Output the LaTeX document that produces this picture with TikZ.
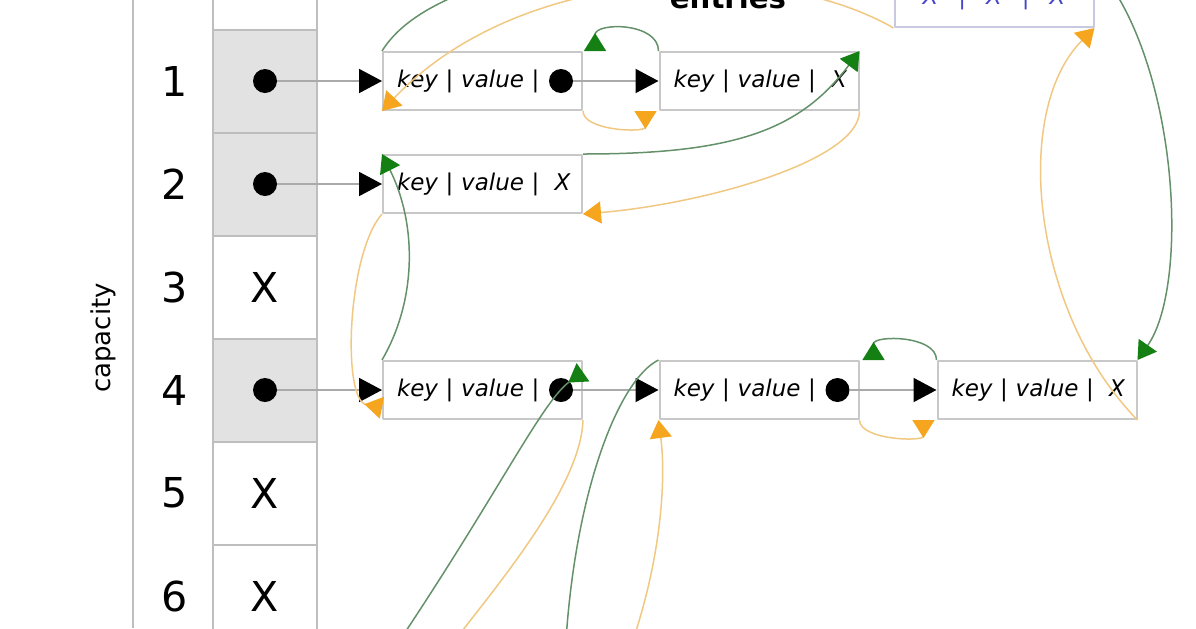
\documentclass[tikz,border=0pt]{standalone}
\usepackage{fontspec}
\setmainfont{DejaVu Sans}
\usetikzlibrary{arrows.meta}
\definecolor{cellline}{RGB}{190,190,190}
\definecolor{cellfill}{RGB}{226,226,226}
\definecolor{boxline}{RGB}{200,200,200}
\definecolor{ptrline}{RGB}{170,170,170}
\definecolor{grline}{RGB}{100,145,105}
\definecolor{grhead}{RGB}{20,128,20}
\definecolor{orline}{RGB}{240,200,130}
\definecolor{orhead}{RGB}{245,165,30}
\definecolor{hdtext}{RGB}{70,70,200}
\definecolor{hdline}{RGB}{200,200,225}
\begin{document}
\begin{tikzpicture}[x=0.5pt,y=-0.5pt,line join=round,
    cell/.style={draw=cellline,line width=1pt,minimum width=52pt,minimum height=51.5pt,inner sep=0pt,font=\fontsize{20.6}{22}\selectfont},
    used/.style={cell,fill=cellfill},
    entry/.style={draw=boxline,line width=1pt,minimum width=99.5pt,minimum height=29pt,inner xsep=7pt,inner ysep=0pt,text width=85.5pt,align=left,font=\fontsize{11.5}{13}\selectfont\itshape},
    dot/.style={circle,fill=black,minimum size=12pt,inner sep=0pt},
    ptr/.style={draw=ptrline,line width=1pt,-{Triangle[length=11.5pt,width=12pt,color=black]}},
    grl/.style={draw=grline,line width=0.75pt},
    orl/.style={draw=orline,line width=0.75pt},
    prv/.style={grl,-{Triangle[length=9pt,width=11pt,color=grhead]}},
    nxt/.style={orl,-{Triangle[length=9pt,width=11pt,color=orhead]}},
    prvb/.style={grl,-{Triangle[reversed,length=9pt,width=11pt,color=grhead]}},
    nxtb/.style={orl,-{Triangle[reversed,length=9pt,width=11pt,color=orhead]}}]
    \useasboundingbox (0,0) rectangle (1196,628);
    \clip (0,0) rectangle (1196,628);
    % table
    \draw[cellline,line width=1pt] (133,0)--(133,628);
    \node[rotate=90,font=\fontsize{13}{13}\selectfont] (cap) at (103,338) {capacity};
    \foreach \i/\st/\txt in {0/cell/{},1/used/{},2/used/{},3/cell/X,4/used/{},5/cell/X,6/cell/X}
        \node[\st] (c\i) at (265,{81+103*(\i-1)}) {\txt};
    \foreach \i in {1,...,6}
        \node[font=\fontsize{20.6}{22}\selectfont] (n\i) at (175,{81+103*(\i-1)}) {\i};
    \foreach \i in {1,2,4}
        \node[dot] (p\i) at (c\i) {};
    % entries
    \node[entry] (e1a) at (482.5,81) {key | value |};
    \node[entry] (e1b) at (759,81) {\mbox{key | value |\ \ X}};
    \node[entry] (e2) at (482.5,184) {\mbox{key | value |\ \ X}};
    \node[entry] (e4a) at (482.5,390) {key | value |};
    \node[entry] (e4b) at (759,390) {key | value |};
    \node[entry] (e4c) at (1037,390) {\mbox{key | value |\ \ X}};
    \node[dot] (d1a) at ([xshift=-11pt]e1a.east) {};
    \node[dot] (d4a) at ([xshift=-11pt]e4a.east) {};
    \node[dot] (d4b) at ([xshift=-11pt]e4b.east) {};
    \node[draw=hdline,line width=1pt,minimum width=99.5pt,minimum height=29pt,text=hdtext,font=\fontsize{11.5}{13}\selectfont\itshape] (hd) at (994,-2) {X\hspace{10pt}|\hspace{10pt}X\hspace{10pt}|\hspace{10pt}X};
    \node[anchor=base,font=\fontsize{14.6}{16}\selectfont\bfseries] (lbl) at (728,8) {entries};
    % pointers
    \foreach \i/\e in {1/e1a,2/e2,4/e4a}
        \draw[ptr] (p\i)--(\e.west);
    \draw[ptr] (d1a)--(e1b.west);
    \draw[ptr] (d4a)--(e4b.west);
    \draw[ptr] (d4b)--(e4c.west);
    % off-picture ends
    \coordinate (gtop1) at (475,-12);
    \coordinate (gtop2) at (1117,-5);
    \coordinate (gbot1) at (400,640);
    \coordinate (gbot2) at (566,640);
    \coordinate (obot1) at (455,640);
    \coordinate (obot2) at (633,640);
    % before links
    \draw[grl] (e1a.north west) .. controls +(17,-27) and +(-45,17) .. (gtop1);
    \draw[prvb] (e1b.north west) .. controls +(0,-29) and +(0,-29) .. ([xshift=6pt]e1a.north east);
    \draw[prv] (e2.north east) .. controls +(150,0) and +(-60,80) .. (e1b.north east);
    \draw[prv] (e4a.north west) .. controls +(35,-60) and +(35,70) .. (e2.north west);
    \draw[prvb] (gbot1) .. controls +(100,-150) and +(-40,28) .. (e4a.10);
    \draw[grl] (e4b.north west) .. controls +(-40,20) and +(10,-150) .. (gbot2);
    \draw[prvb] (e4c.north west) .. controls +(0,-25) and +(0,-25) .. ([xshift=7pt]e4b.north east);
    \draw[prv] (gtop2) .. controls +(63,105) and +(49,-70) .. (e4c.north east);
    % after links
    \draw[nxt] (hd.south west) .. controls +(-125,-72) and +(137,-145) .. (e1a.south west);
    \draw[nxtb] (e1a.south east) .. controls +(0,20) and +(0,22) .. ([xshift=-6.5pt]e1b.south west);
    \draw[nxt] (e1b.south east) .. controls +(0,50) and +(120,-10) .. (e2.south east);
    \draw[nxtb] (e2.south west) .. controls +(-35,40) and +(-40,-8) .. (e4a.190);
    \draw[orl] (e4a.south east) .. controls +(-2,62) and +(55,-70) .. (obot1);
    \draw[nxt] (obot2) .. controls +(27,-80) and +(8,62) .. (e4b.south west);
    \draw[nxtb] (e4b.south east) .. controls +(0,20) and +(0,22) .. ([xshift=-6.5pt]e4c.south west);
    \draw[nxt] (e4c.south east) .. controls +(-106,-108) and +(-83,83) .. (hd.south east);
\end{tikzpicture}
\end{document}
